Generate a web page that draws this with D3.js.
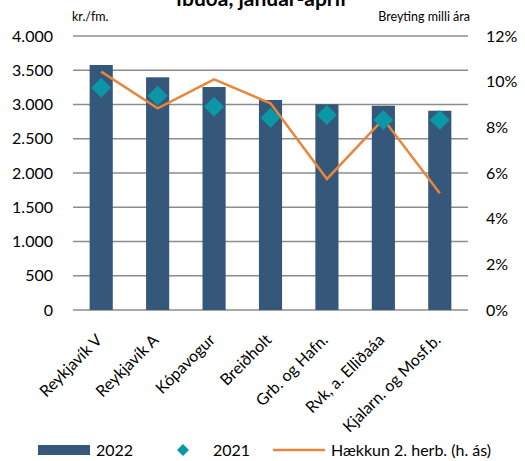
<!DOCTYPE html>
<html>
<head>
<meta charset="utf-8">
<script src="https://cdn.jsdelivr.net/npm/d3@7"></script>
<style>
  body { margin: 0; background: #fff; }
  text { font-family: Lato, "Liberation Sans", Arial, sans-serif; fill: #000; }
</style>
</head>
<body>
<div id="chart"></div>
<script>
// data
var areas = ["Reykjavík V", "Reykjavík A", "Kópavogur", "Breiðholt",
             "Grb. og Hafn.", "Rvk, a. Elliðaáa", "Kjalarn. og Mosf.b."];
var price2022 = [3577, 3397, 3255, 3066, 3003, 2982, 2909];
var price2021 = [3245, 3128, 2968, 2807, 2847, 2774, 2774];
var hækkun = [10.44, 8.83, 10.10, 9.05, 5.74, 8.36, 5.11];
var leftTicks = [0, 500, 1000, 1500, 2000, 2500, 3000, 3500, 4000];
var rightTicks = [0, 2, 4, 6, 8, 10, 12];

var W = 525, H = 461;
var margin = {top: 36, right: 57, bottom: 151, left: 73},
    width = W - margin.left - margin.right,
    height = H - margin.top - margin.bottom;

var svg = d3.select("#chart")
  .append("svg")
    .attr("width", W)
    .attr("height", H);

var g = svg.append("g")
    .attr("transform", "translate(" + margin.left + "," + margin.top + ")");

var x = d3.scaleBand()
  .domain(areas)
  .range([0, width])
  .paddingInner(0.59)
  .paddingOuter(0.295);

var y = d3.scaleLinear().domain([0, 4000]).range([height, 0]);
var y2 = d3.scaleLinear().domain([0, 12]).range([height, 0]);

var fmt = function(d) { return d3.format(",")(d).replace(/,/g, "."); };

// gridlines
g.append("g")
  .selectAll("line")
  .data(leftTicks)
  .enter()
  .append("line")
    .attr("x1", 0)
    .attr("x2", width)
    .attr("y1", d => y(d))
    .attr("y2", d => y(d))
    .attr("stroke", "#8c8c8c")
    .attr("stroke-width", 1.5);

// left axis labels
var yAxis = g.append("g")
  .call(d3.axisLeft(y).tickValues(leftTicks).tickFormat(fmt).tickSize(0).tickPadding(20));
yAxis.select(".domain").remove();
yAxis.selectAll("text").style("font-size", "16px").attr("fill", "#000");

// right axis labels
var yAxis2 = g.append("g")
  .attr("transform", "translate(" + width + ",0)")
  .call(d3.axisRight(y2).tickValues(rightTicks).tickFormat(d => d + "%").tickSize(0).tickPadding(18));
yAxis2.select(".domain").remove();
yAxis2.selectAll("text").style("font-size", "16px").attr("fill", "#000");

// bars 2022
g.append("g")
  .selectAll("rect")
  .data(areas)
  .enter()
  .append("rect")
    .attr("x", d => x(d))
    .attr("y", (d, i) => y(price2022[i]))
    .attr("width", x.bandwidth())
    .attr("height", (d, i) => height - y(price2022[i]))
    .style("fill", "#34577a");

// line (right axis)
var line = d3.line()
  .x((d, i) => x(areas[i]) + x.bandwidth() / 2)
  .y(d => y2(d));
g.append("path")
  .datum(hækkun)
  .attr("d", line)
  .attr("fill", "none")
  .attr("stroke", "#e8873a")
  .attr("stroke-width", 2.5);

// diamonds 2021
var diamond = "M0,-10L10,0L0,10L-10,0Z";
g.append("g")
  .selectAll("path")
  .data(areas)
  .enter()
  .append("path")
    .attr("d", diamond)
    .attr("transform", (d, i) => "translate(" + (x(d) + x.bandwidth() / 2) + "," + y(price2021[i]) + ")")
    .style("fill", "#0b97a5");

// x labels, rotated
g.append("g")
  .selectAll("text")
  .data(areas)
  .enter()
  .append("text")
    .attr("transform", d => "translate(" + (x(d) + x.bandwidth() / 2 - 2) + "," + (height + 27) + ") rotate(-45)")
    .attr("text-anchor", "end")
    .attr("dy", "0.35em")
    .style("font-size", "16px")
    .text(d => d);

// unit labels
svg.append("text")
  .attr("x", 72)
  .attr("y", 21)
  .style("font-size", "12.5px")
  .text("kr./fm.");
svg.append("text")
  .attr("x", 470)
  .attr("y", 21)
  .attr("text-anchor", "end")
  .style("font-size", "12.5px")
  .text("Breyting milli ára");

// title (top line is cut off in the picture)
svg.append("text")
  .attr("x", 261)
  .attr("y", 5.5)
  .attr("text-anchor", "middle")
  .style("font-size", "21px")
  .style("font-weight", "bold")
  .text("íbúða, janúar-apríl");

// legend
var leg = svg.append("g").attr("transform", "translate(0,450)");
leg.append("rect")
  .attr("x", 38).attr("y", -5).attr("width", 52).attr("height", 10)
  .style("fill", "#34577a");
leg.append("text").attr("x", 96).attr("dy", "0.35em").style("font-size", "16px").text("2022");
leg.append("path").attr("d", "M0,-6L6,0L0,6L-6,0Z")
  .attr("transform", "translate(183,0)").style("fill", "#0b97a5");
leg.append("text").attr("x", 213).attr("dy", "0.35em").style("font-size", "16px").text("2021");
leg.append("line").attr("x1", 273).attr("x2", 325)
  .attr("stroke", "#e8873a").attr("stroke-width", 2.5);
leg.append("text").attr("x", 331).attr("dy", "0.35em").style("font-size", "16px").text("Hækkun 2. herb. (h. ás)");
</script>
</body>
</html>
